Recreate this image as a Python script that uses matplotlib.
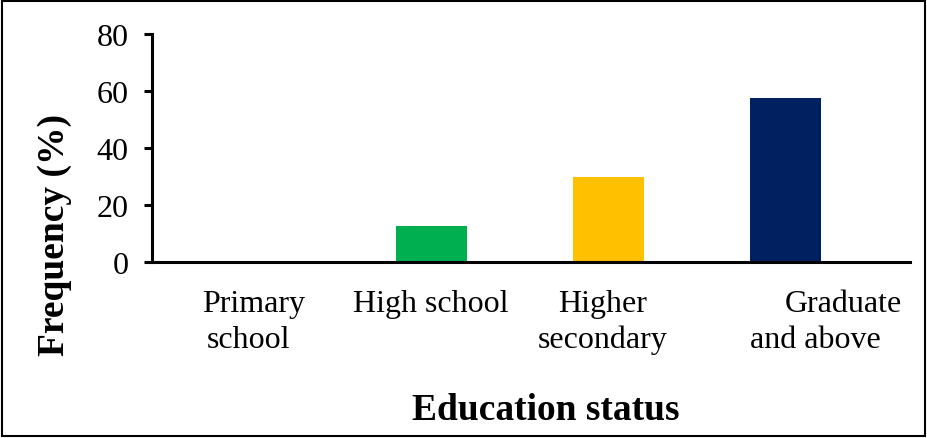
import matplotlib
matplotlib.use('Agg')

import matplotlib.pyplot as plt
from matplotlib.patches import Rectangle

# Education status distribution
categories = ['Primary\nschool', 'High school', 'Higher\nsecondary', 'Graduate\nand above']
frequency = [0, 12.5, 30, 57.5]
colors = ['#00B050', '#00B050', '#FFC000', '#002060']

# horizontal nudges (in category units) for each line of the category labels
label_shift = [(0.0, -0.03), (0.0,), (-0.03, -0.03), (0.33, 0.17)]

plt.rcParams['font.family'] = ['Liberation Serif', 'DejaVu Serif']

fig = plt.figure(figsize=(9.27, 4.39), dpi=100)
ax = fig.add_axes([0.164, 0.401, 0.818, 0.519])

x = list(range(len(categories)))
ax.bar(x, frequency, width=0.40, color=colors, zorder=2)

ax.set_ylim(0, 80)
ax.set_xlim(-0.576, 3.706)
ax.set_yticks([0, 20, 40, 60, 80])
ax.set_xticks([])

ax.tick_params(axis='y', labelsize=23, width=2.2, length=6, pad=11)

for side in ['top', 'right']:
    ax.spines[side].set_visible(False)
for side in ['left', 'bottom']:
    ax.spines[side].set_linewidth(2.2)

# category labels, one line at a time
for i, label in enumerate(categories):
    for j, line in enumerate(label.split('\n')):
        ax.annotate(line, xy=(i + label_shift[i][j], 0),
                    xycoords=('data', 'axes fraction'),
                    xytext=(0, -30 - 25.5 * j), textcoords='offset points',
                    ha='center', va='center', fontsize=23)

fig.text(0.059, 0.465, 'Frequency (%)', fontsize=27, fontweight='bold',
         rotation=90, ha='center', va='center')
fig.text(0.589, 0.066, 'Education status', fontsize=27, fontweight='bold',
         ha='center', va='center')

# frame around the whole figure
fig.patches.append(Rectangle((0.002, 0.004), 0.996, 0.992, transform=fig.transFigure,
                             fill=False, edgecolor='black', linewidth=1.5))

fig.savefig('out.png', dpi=100)
plt.close('all')
